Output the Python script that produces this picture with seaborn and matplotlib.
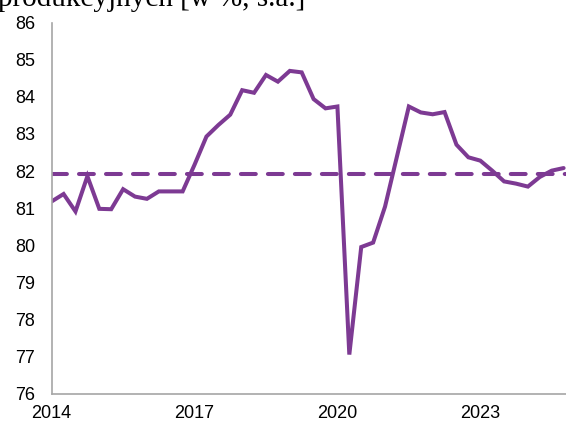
import numpy as np
import pandas as pd
import matplotlib
matplotlib.use("Agg")
import matplotlib.pyplot as plt
import seaborn as sns

# Quarterly capacity utilisation, 2014Q1 .. 2024Q4
years = list(range(2014, 2025))
quarters = [1, 2, 3, 4]
values = [
    81.18, 81.38, 80.91, 81.86,
    80.98, 80.97, 81.51, 81.31,
    81.25, 81.45, 81.45, 81.45,
    82.17, 82.93, 83.24, 83.52,
    84.18, 84.11, 84.59, 84.41,
    84.70, 84.66, 83.94, 83.69,
    83.74, 77.05, 79.95, 80.07,
    81.04, 82.39, 83.74, 83.58,
    83.53, 83.59, 82.71, 82.37,
    82.28, 82.01, 81.72, 81.66,
    81.58, 81.84, 82.01, 82.08,
]
average = [81.92]
y_ticks = [76, 77, 78, 79, 80, 81, 82, 83, 84, 85, 86]
x_tick_labels = [2014, 2017, 2020, 2023]
title_text = "produkcyjnych [w %, s.a.]"

t = [y + (q - 1) / 4 for y in years for q in quarters]
df = pd.DataFrame({"t": t, "value": values})

sns.set_theme(style="white")
plt.rcParams["font.family"] = ["Liberation Sans Narrow", "Liberation Sans", "DejaVu Sans"]

purple = "#7D3A93"
grey = "#A6A6A6"

fig = plt.figure(figsize=(5.66, 4.33), dpi=100)
ax = fig.add_axes([0.0913, 0.0912, 0.9087, 0.8564])

sns.lineplot(data=df, x="t", y="value", ax=ax, color=purple, linewidth=2.9,
             solid_joinstyle="miter")
ax.axhline(average[0], color=purple, linewidth=2.9, dashes=(3.7, 3.0),
           dash_capstyle="round", zorder=1)

ax.set_xlim(2014, 2024.80)
ax.set_ylim(76, 86)
ax.set_yticks(y_ticks)
ax.set_xticks(list(range(2014, 2025)), minor=False)
ax.set_xticklabels([str(y) if y in x_tick_labels else "" for y in range(2014, 2025)])
ax.set_xlabel("")
ax.set_ylabel("")

for s in ["top", "right"]:
    ax.spines[s].set_visible(False)
for s in ["left", "bottom"]:
    ax.spines[s].set_color(grey)
    ax.spines[s].set_linewidth(1.2)

ax.tick_params(axis="both", which="major", direction="out", length=4,
               width=1.0, color=grey, labelsize=13, labelcolor="black")
ax.tick_params(axis="y", pad=8)
ax.tick_params(axis="x", pad=4)

fig.text(-0.003, 0.9865, title_text, family="Liberation Serif", fontsize=21,
         ha="left", va="baseline", color="black")

fig.savefig("out.png", dpi=100, facecolor="white")
